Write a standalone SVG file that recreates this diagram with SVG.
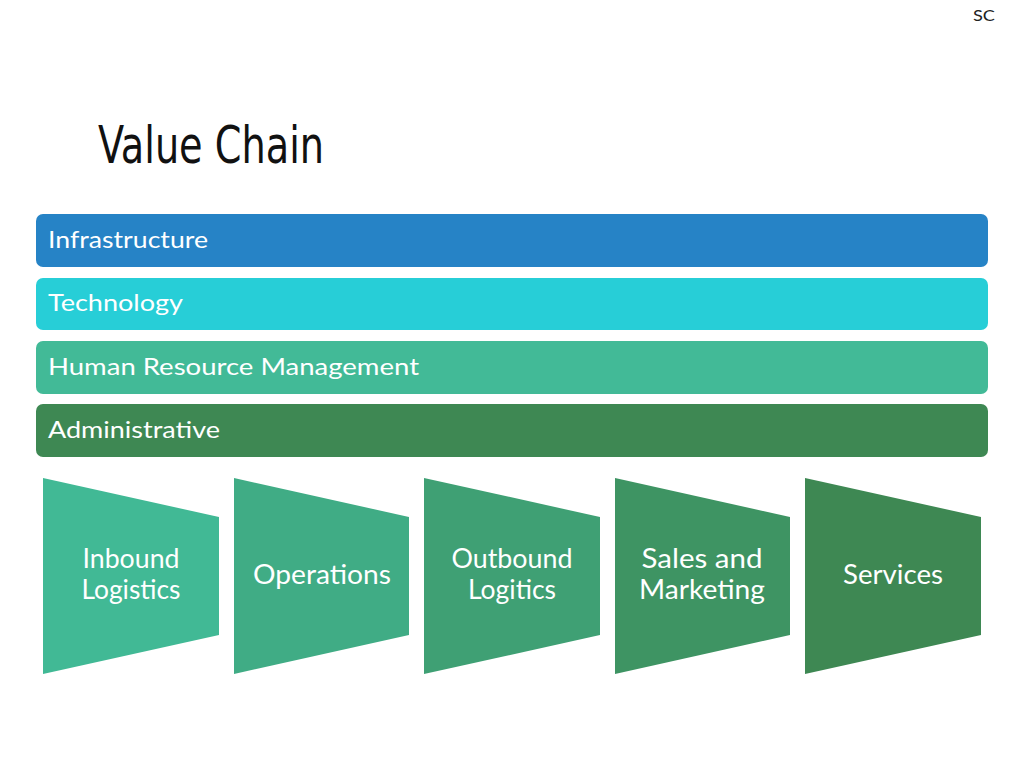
<svg xmlns="http://www.w3.org/2000/svg" width="1024" height="768" viewBox="0 0 1024 768">
<style>
.bar-t{font-family:"Lato","Noto Sans",sans-serif;font-size:23px;fill:#ffffff}
.lbl{font-family:"Lato","Noto Sans",sans-serif;font-size:26px;fill:#ffffff;text-anchor:middle}
.title{font-family:"Liberation Sans Narrow","DejaVu Sans Condensed",sans-serif;font-size:52px;fill:#111111}
.sc{font-family:"Lato","Noto Sans",sans-serif;font-size:15px;fill:#222222}
</style>
<rect width="1024" height="768" fill="#ffffff"/>
<text class="sc" x="973" y="21" textLength="22" lengthAdjust="spacingAndGlyphs">SC</text>
<text class="title" x="98" y="163" textLength="226" lengthAdjust="spacingAndGlyphs">Value Chain</text>
<g id="infrastructure">
<rect x="36" y="214" width="952" height="53" rx="7" fill="#2683C6"/>
<text class="bar-t" x="48" y="248" textLength="160" lengthAdjust="spacingAndGlyphs">Infrastructure</text>
</g>
<g id="technology">
<rect x="36" y="278" width="952" height="52" rx="7" fill="#27CED7"/>
<text class="bar-t" x="48" y="311" textLength="135" lengthAdjust="spacingAndGlyphs">Technology</text>
</g>
<g id="hrm">
<rect x="36" y="341" width="952" height="53" rx="7" fill="#42BA97"/>
<text class="bar-t" x="48" y="375" textLength="371" lengthAdjust="spacingAndGlyphs">Human Resource Management</text>
</g>
<g id="administrative">
<rect x="36" y="404" width="952" height="53" rx="7" fill="#3E8853"/>
<text class="bar-t" x="48" y="438" textLength="172" lengthAdjust="spacingAndGlyphs">Administrative</text>
</g>
<g id="inbound">
<polygon points="43,478 219,517 219,635 43,674" fill="#41B995"/>
<text class="lbl" x="131" y="568" textLength="97" lengthAdjust="spacingAndGlyphs">Inbound</text>
<text class="lbl" x="131" y="599" textLength="99" lengthAdjust="spacingAndGlyphs">Logistics</text>
</g>
<g id="operations">
<polygon points="234,478 409,517 409,635 234,674" fill="#40AC85"/>
<text class="lbl" x="322" y="584" textLength="138" lengthAdjust="spacingAndGlyphs">Operations</text>
</g>
<g id="outbound">
<polygon points="424,478 600,517 600,635 424,674" fill="#3FA074"/>
<text class="lbl" x="512" y="568" textLength="121" lengthAdjust="spacingAndGlyphs">Outbound</text>
<text class="lbl" x="512" y="599" textLength="88" lengthAdjust="spacingAndGlyphs">Logitics</text>
</g>
<g id="sales">
<polygon points="615,478 790,517 790,635 615,674" fill="#3E9463"/>
<text class="lbl" x="702" y="568" textLength="121" lengthAdjust="spacingAndGlyphs">Sales and</text>
<text class="lbl" x="702" y="599" textLength="126" lengthAdjust="spacingAndGlyphs">Marketing</text>
</g>
<g id="services">
<polygon points="805,478 981,517 981,635 805,674" fill="#3E8853"/>
<text class="lbl" x="893" y="584" textLength="100" lengthAdjust="spacingAndGlyphs">Services</text>
</g>
<g id="connectors"></g>
</svg>
